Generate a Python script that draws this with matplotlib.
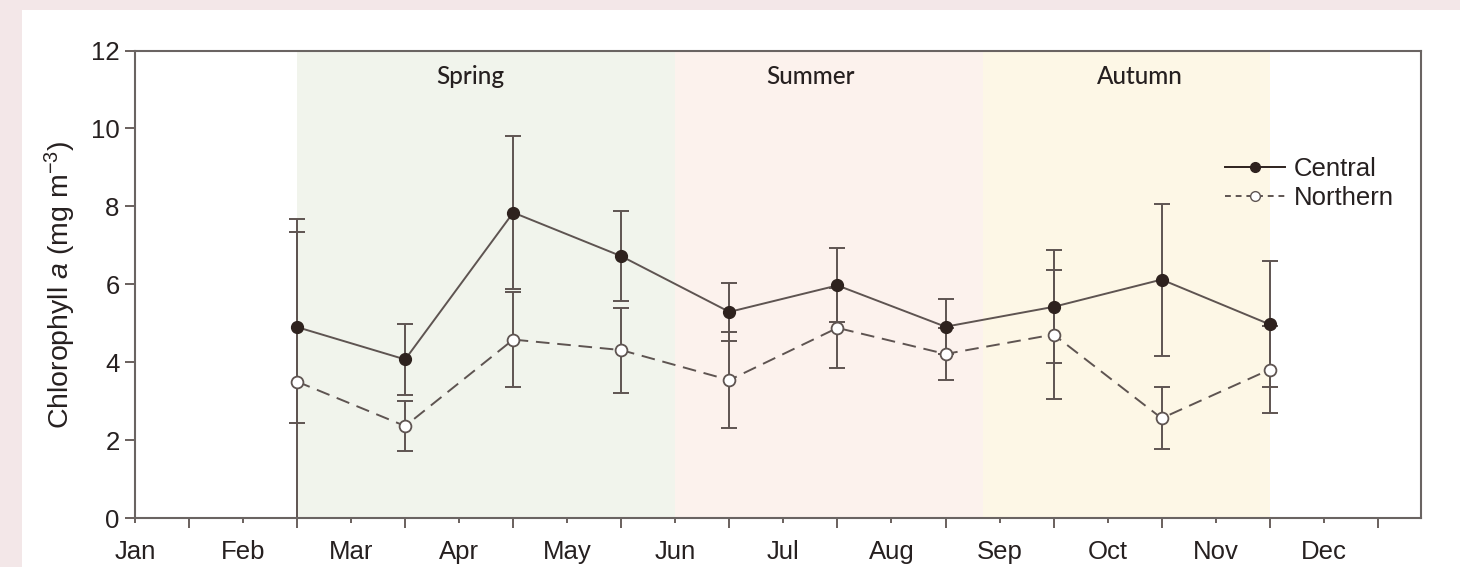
import matplotlib
matplotlib.use("Agg")
import matplotlib.pyplot as plt
from matplotlib.patches import Rectangle
from matplotlib.lines import Line2D
import numpy as np

# Month labels and sampling positions (0 = Jan)
months = ['Jan', 'Feb', 'Mar', 'Apr', 'May', 'Jun', 'Jul', 'Aug', 'Sep', 'Oct', 'Nov', 'Dec']
sample_x = [1.5, 2.5, 3.5, 4.5, 5.5, 6.5, 7.5, 8.5, 9.5, 10.5]

# Chlorophyll a means and error (mg m-3)
central = [4.90, 4.07, 7.84, 6.72, 5.29, 5.97, 4.91, 5.42, 6.12, 4.97]
central_err = [2.45, 0.90, 1.96, 1.16, 0.74, 0.95, 0.70, 1.45, 1.95, 1.62]
northern = [3.50, 2.36, 4.58, 4.31, 3.54, 4.88, 4.21, 4.71, 2.56, 3.81]
northern_err = [4.17, 0.65, 1.21, 1.09, 1.24, 1.02, 0.67, 1.65, 0.80, 1.11]

# Seasons (start, end, label, label position, colour)
seasons = ['Spring', 'Summer', 'Autumn']
season_start = [1.5, 5.0, 7.85]
season_end = [5.0, 7.85, 10.5]
season_label_x = [3.1, 6.25, 9.3]
season_colors = ['#f1f4ec', '#fcf2ed', '#fdf7e6']

plt.rcParams['font.family'] = ['Liberation Sans', 'DejaVu Sans']
plt.rcParams['mathtext.fontset'] = 'custom'
plt.rcParams['mathtext.rm'] = 'Liberation Sans'
plt.rcParams['mathtext.it'] = 'Liberation Sans:italic'
fs = 18.5
dark = '#2e221e'
grey = '#5e5451'
txt = '#262020'

fig = plt.figure(figsize=(14.6, 5.67), dpi=100, facecolor='#f3e7e8')
# white panel behind everything
fig.patches.append(Rectangle((22 / 1460, 0), 1, 1 - 10 / 567, transform=fig.transFigure,
                             facecolor='white', edgecolor='none', zorder=-10))

ax = fig.add_axes([135 / 1460, 1 - 518 / 567, (1421 - 135) / 1460, (518 - 50.5) / 567])
ax.set_facecolor('white')

for s0, s1, c in zip(season_start, season_end, season_colors):
    ax.axvspan(s0, s1, facecolor=c, edgecolor='none', zorder=0)
for lx, name in zip(season_label_x, seasons):
    ax.text(lx, 11.33, name, ha='center', va='center', fontsize=17.5, family='Lato',
            fontweight='medium', color=txt, zorder=3)

ax.errorbar(sample_x, central, yerr=central_err, fmt='none', ecolor=grey,
            elinewidth=1.4, capsize=5.5, capthick=1.4, zorder=2)
ax.errorbar(sample_x, northern, yerr=northern_err, fmt='none', ecolor=grey,
            elinewidth=1.4, capsize=5.5, capthick=1.4, zorder=2)

ax.plot(sample_x, central, '-', color=grey, lw=1.4, zorder=3)
ax.plot(sample_x, central, 'o', color=dark, markersize=8.5, markeredgecolor=dark, zorder=4)
ax.plot(sample_x, northern, '--', color=grey, lw=1.4, dashes=(7, 4), zorder=3)
ax.plot(sample_x, northern, 'o', markerfacecolor='white', markeredgecolor=grey,
        markeredgewidth=1.3, markersize=8.5, zorder=4)

ax.set_xlim(0, 11.9)
ax.set_ylim(0, 12)
ax.set_yticks(np.arange(0, 13, 2))
ax.set_xticks(np.arange(0.5, 12, 1))
ax.set_xticklabels([])
ax.set_xticks(np.arange(0, 12, 1), minor=True)
ax.set_xticklabels(months, minor=True)
ax.tick_params(axis='x', which='major', length=7, width=1.3, color=grey)
ax.tick_params(axis='x', which='minor', length=3.5, width=1.3, color=grey,
               labelsize=fs, pad=12, labelcolor=txt)
ax.tick_params(axis='y', length=7, width=1.3, color=grey, labelsize=fs,
               labelcolor=txt, pad=4)
for sp in ax.spines.values():
    sp.set_color('#6a6462')
    sp.set_linewidth(1.5)

ax.set_ylabel(r'Chlorophyll $\it{a}$ (mg m$^{-3}$)', fontsize=20.5, color=txt, labelpad=9)

handles = [
    Line2D([], [], color=dark, lw=1.4, marker='o', markersize=7, markerfacecolor=dark),
    Line2D([], [], color=grey, lw=1.4, dashes=(3, 2.5), marker='o', markersize=7,
           markerfacecolor='white', markeredgecolor=grey),
]
leg = ax.legend(handles, ['Central', 'Northern'], loc='upper right',
                bbox_to_anchor=(0.997, 0.821), frameon=False, fontsize=fs,
                handlelength=2.35, handletextpad=0.35, labelspacing=0.2, labelcolor=txt)

fig.savefig('out.png', dpi=100, facecolor=fig.get_facecolor())
